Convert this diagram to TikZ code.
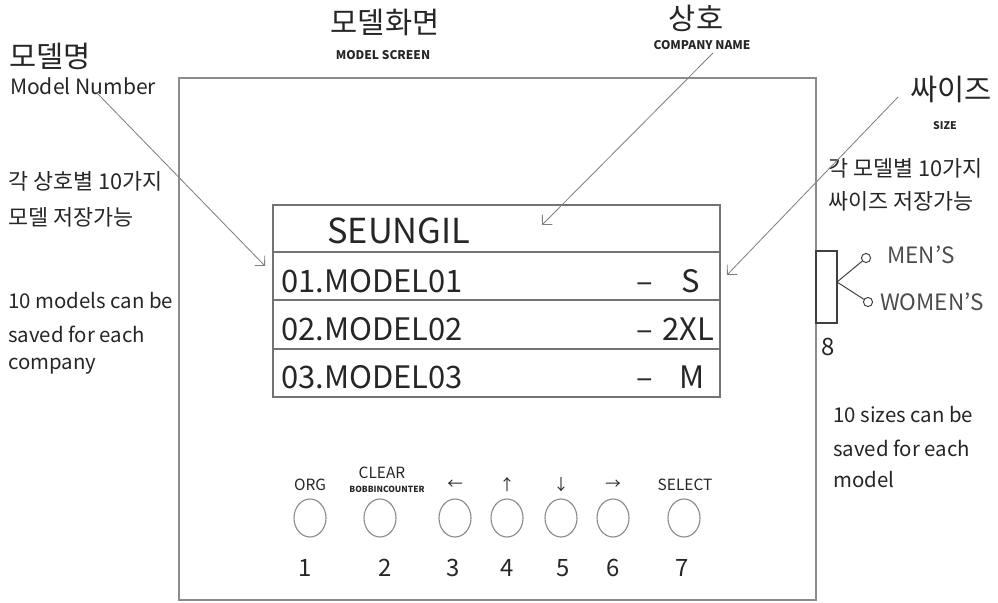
\documentclass[tikz,border=0pt]{standalone}
\usepackage{fontspec}
\setmainfont{Noto Sans CJK KR}
\usetikzlibrary{arrows.meta}

\tikzset{
  callout/.style={draw=black!50, line width=0.6pt, -{Straight Barb[length=5pt,width=10pt]}},
  txt/.style={inner sep=0pt, text=black!85},
  note/.style={txt, anchor=west, font=\fontsize{14.5}{16}\selectfont},
  knote/.style={txt, anchor=west, font=\fontsize{15.5}{18}\selectfont},
  title/.style={txt, font=\fontsize{21}{24}\selectfont},
  sub/.style={txt, font=\bfseries\fontsize{8.5}{10}\selectfont},
  lcd/.style={txt, anchor=base, font=\fontsize{22}{26}\selectfont},
  keylbl/.style={txt, font=\fontsize{11}{13}\selectfont},
  keynum/.style={txt, font=\fontsize{17}{20}\selectfont}
}

\begin{document}
\begin{tikzpicture}[x=0.025cm, y=-0.025cm]
			%%%%% START %%%%%
			\useasboundingbox (0, 0) rectangle (998, 603);
			
			% panel
			\draw[line width=1pt, color=black!45] (179, 78) rectangle (816, 600);
			
			% titles
			\node[title] (tmodel) at (50, 56) {모델명};
			\node[txt, font=\fontsize{15}{17}\selectfont] (tmodelen) at (83, 86) {Model Number};
			\node[title] (tscreen) at (385, 22) {모델화면};
			\node[sub] (tscreenen) at (383, 55) {MODEL SCREEN};
			\node[title] (tcomp) at (696, 18) {상호};
			\node[sub] (tcompen) at (702, 45) {COMPANY NAME};
			\node[title] (tsize) at (951, 89) {싸이즈};
			\node[sub, font=\bfseries\fontsize{7.5}{9}\selectfont] (tsizeen) at (945, 126) {SIZE};
			
			% notes
			\node[knote] (lk1) at (8, 181) {각 상호별 10가지};
			\node[knote] (lk2) at (8, 217) {모델 저장가능};
			\node[note] (le1) at (8, 301) {10 models can be};
			\node[note] (le2) at (8, 334) {saved for each};
			\node[note] (le3) at (8, 366) {company};
			
			\node[knote] (rk1) at (828, 168) {각 모델별 10가지};
			\node[knote] (rk2) at (828, 201) {싸이즈 저장가능};
			\node[note] (re1) at (833, 415) {10 sizes can be};
			\node[note] (re2) at (833, 448) {saved for each};
			\node[note] (re3) at (833, 480) {model};
			
			% screen
			\draw[line width=0.9pt, color=black!55] (273, 205) rectangle (720, 397);
			\draw[line width=0.9pt, color=black!55] (273, 252) -- (720, 252);
			\draw[line width=0.9pt, color=black!55] (273, 300) -- (720, 300);
			\draw[line width=0.9pt, color=black!55] (273, 349) -- (720, 349);
			
			\node[lcd, font=\fontsize{24.5}{28}\selectfont, anchor=base west] (company) at (327, 243) {SEUNGIL};
			\node[lcd, anchor=base west] (row1) at (281, 292) {01.MODEL01};
			\node[lcd] (dash1) at (645, 292) {–};
			\node[lcd] (size1) at (691, 292) {S};
			\node[lcd, anchor=base west] (row2) at (281, 340) {02.MODEL02};
			\node[lcd] (dash2) at (645, 340) {–};
			\node[lcd] (size2) at (688, 340) {2XL};
			\node[lcd, anchor=base west] (row3) at (281, 388) {03.MODEL03};
			\node[lcd] (dash3) at (645, 388) {–};
			\node[lcd] (size3) at (692, 388) {M};
			
			% callouts
			\coordinate (c1) at (97, 93);
			\coordinate (c1e) at (265, 266);
			\coordinate (c2) at (713, 53);
			\coordinate (c2e) at (542, 225);
			\coordinate (c3) at (898, 97);
			\coordinate (c3e) at (727, 275);
			\draw[callout] (c1) -- (c1e);
			\draw[callout] (c2) -- (c2e);
			\draw[callout] (c3) -- (c3e);
			
			% keys
			\node[keylbl] (korg) at (310, 485) {ORG};
			\node[keylbl] (kclr) at (382, 473) {CLEAR};
			\node[txt, font=\bfseries\fontsize{6}{7}\selectfont] (kbob) at (387, 489) {BOBBINCOUNTER};
			\node[keylbl] (kleft) at (455, 485) {←};
			\node[keylbl] (kup) at (507, 485) {↑};
			\node[keylbl] (kdown) at (561, 485) {↓};
			\node[keylbl] (kright) at (613, 485) {→};
			\node[keylbl] (ksel) at (685, 485) {SELECT};
			
			\draw[line width=0.8pt, color=black!45] (310, 518) ellipse (16 and 19);
			\draw[line width=0.8pt, color=black!45] (380, 518) ellipse (16 and 19);
			\draw[line width=0.8pt, color=black!45] (455, 518) ellipse (16 and 19);
			\draw[line width=0.8pt, color=black!45] (507, 518) ellipse (16 and 19);
			\draw[line width=0.8pt, color=black!45] (561, 518) ellipse (16 and 19);
			\draw[line width=0.8pt, color=black!45] (613, 518) ellipse (16 and 19);
			\draw[line width=0.8pt, color=black!45] (684, 518) ellipse (16 and 19);
			
			\node[keynum] (n1) at (305, 568) {1};
			\node[keynum] (n2) at (385, 568) {2};
			\node[keynum] (n3) at (453, 568) {3};
			\node[keynum] (n4) at (507, 568) {4};
			\node[keynum] (n5) at (563, 568) {5};
			\node[keynum] (n6) at (613, 568) {6};
			\node[keynum] (n7) at (682, 568) {7};
			
			% gender switch
			\draw[line width=0.8pt, color=black!75] (816, 251) rectangle (837, 323);
			\coordinate (fork) at (837, 282);
			\node[circle, draw=black!75, line width=0.7pt, inner sep=0pt, minimum size=6.5pt] (men) at (866, 258) {};
			\node[circle, draw=black!75, line width=0.7pt, inner sep=0pt, minimum size=6.5pt] (women) at (868, 302) {};
			\draw[line width=0.7pt, color=black!75] (fork) -- (men);
			\draw[line width=0.7pt, color=black!75] (fork) -- (women);
			\node[txt, anchor=west, font=\fontsize{16}{18}\selectfont, text=black!70] (lmen) at (887, 255) {MEN'S};
			\node[txt, anchor=west, font=\fontsize{16}{18}\selectfont, text=black!70] (lwomen) at (880, 302) {WOMEN'S};
			\node[keynum] (n8) at (828, 347) {8};
			
			%%%%% END %%%%%
		\end{tikzpicture}
\end{document}
